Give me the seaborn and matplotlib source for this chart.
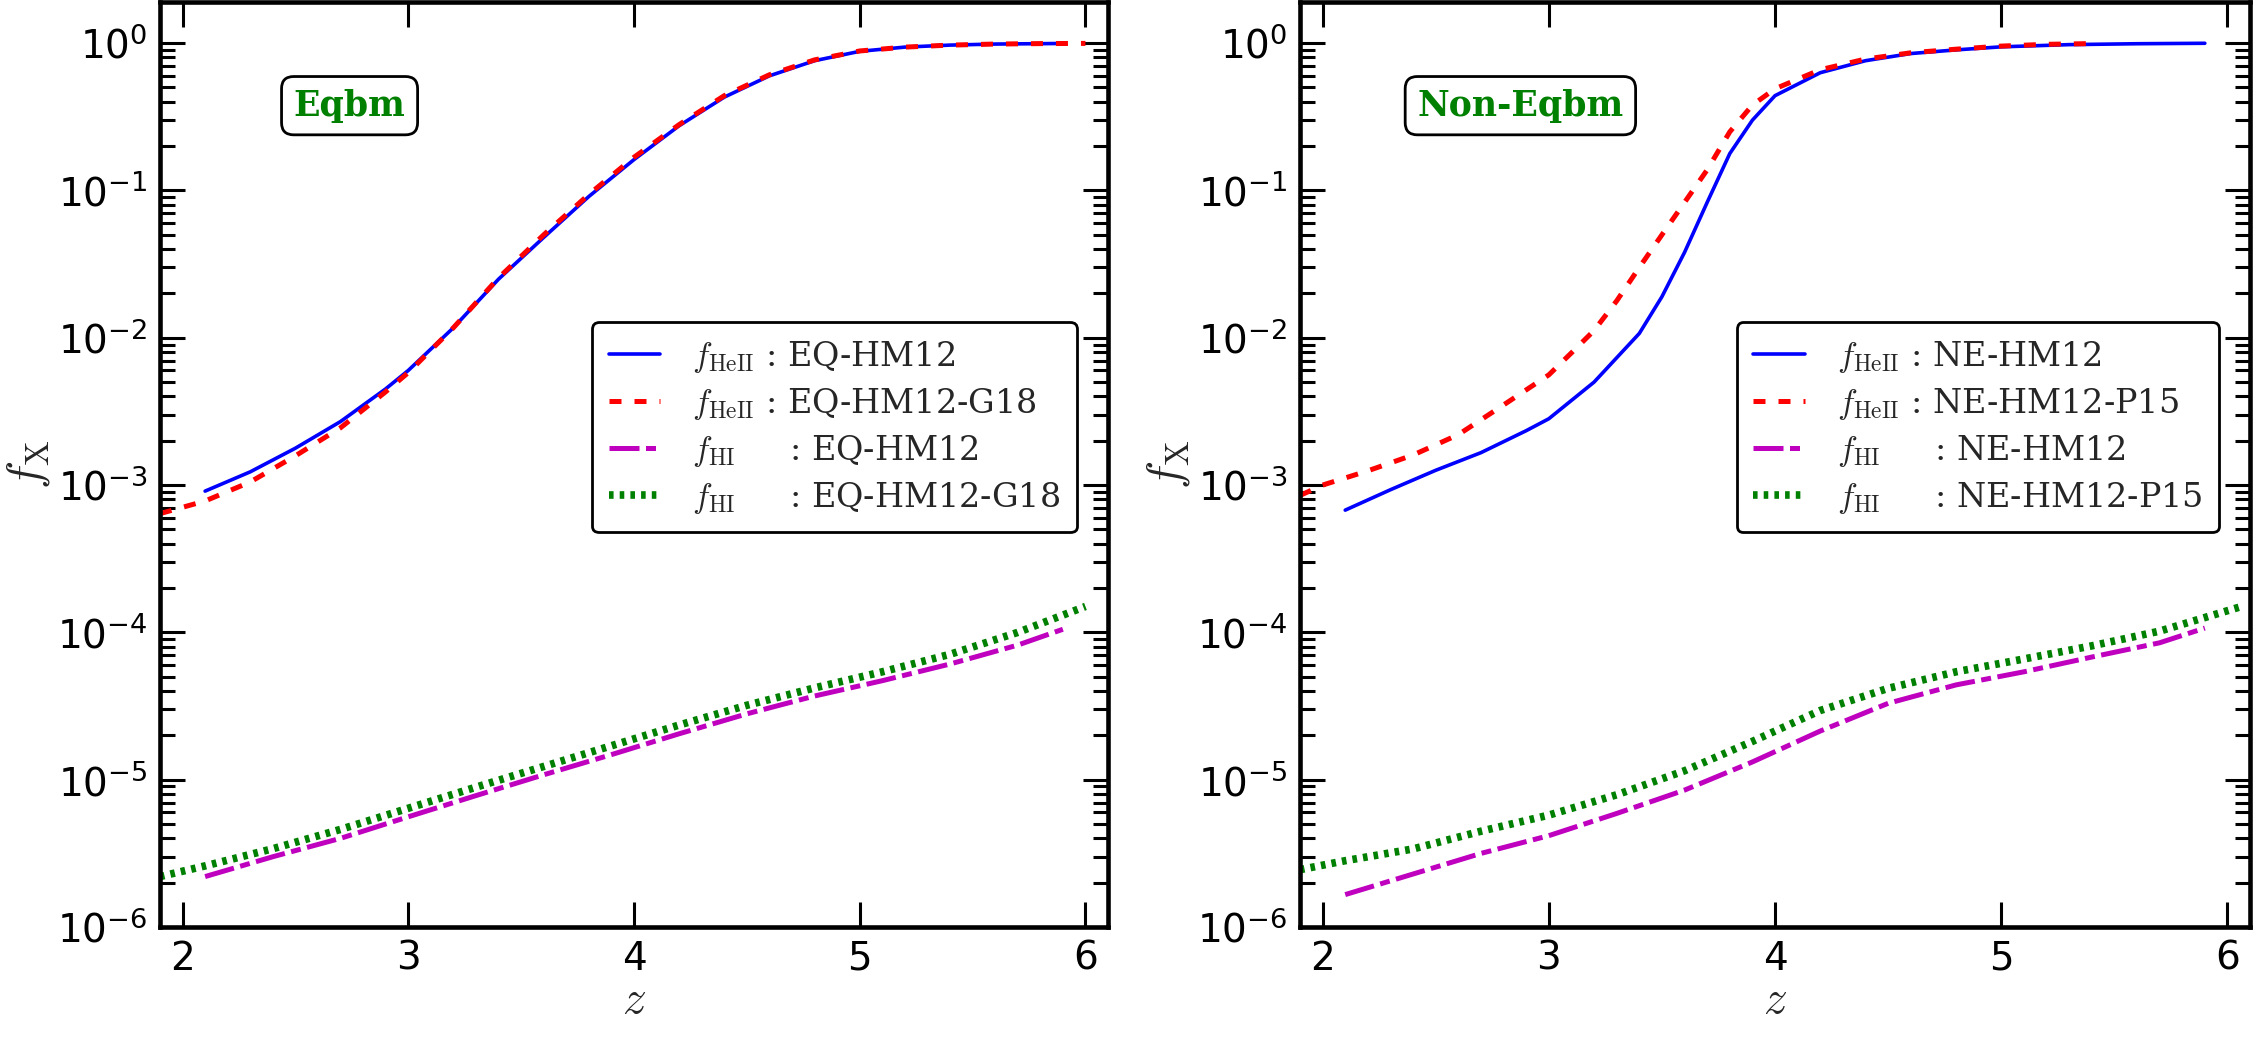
import numpy as np
import pandas as pd
import matplotlib
matplotlib.use("Agg")
import matplotlib.pyplot as plt
from matplotlib.ticker import NullFormatter, FixedLocator, LogFormatterMathtext
import seaborn as sns

# ---------------- data ----------------
# Left panel: equilibrium
eq_heii_hm12_z = [2.1, 2.3, 2.5, 2.7, 2.9, 3.0, 3.2, 3.4, 3.6, 3.8, 4.0, 4.2, 4.4, 4.6, 4.8, 5.0, 5.2, 5.4, 5.6, 5.9]
eq_heii_hm12_f = [9.1e-4, 1.23e-3, 1.78e-3, 2.7e-3, 4.5e-3, 6.0e-3, 1.17e-2, 2.5e-2, 4.8e-2, 9.1e-2,
                  0.162, 0.275, 0.43, 0.60, 0.76, 0.88, 0.94, 0.97, 0.986, 0.995]

eq_heii_g18_z = [1.9, 2.1, 2.3, 2.5, 2.7, 2.9, 3.0, 3.2, 3.4, 3.6, 3.8, 4.0, 4.2, 4.4, 4.6, 4.8, 5.0, 5.2, 5.4, 5.6, 5.8, 6.0]
eq_heii_g18_f = [6.4e-4, 7.8e-4, 1.05e-3, 1.58e-3, 2.45e-3, 4.3e-3, 5.8e-3, 1.17e-2, 2.55e-2, 5.0e-2, 9.4e-2,
                 0.168, 0.28, 0.44, 0.61, 0.77, 0.885, 0.94, 0.97, 0.986, 0.993, 0.996]

eq_hi_hm12_z = [2.1, 2.4, 2.7, 3.0, 3.3, 3.6, 3.9, 4.2, 4.5, 4.8, 5.1, 5.4, 5.7, 5.9]
eq_hi_hm12_f = [2.2e-6, 3.0e-6, 4.0e-6, 5.6e-6, 7.8e-6, 1.08e-5, 1.48e-5, 2.05e-5, 2.8e-5, 3.7e-5,
                4.7e-5, 6.1e-5, 8.2e-5, 1.05e-4]

eq_hi_g18_z = [1.9, 2.1, 2.4, 2.7, 3.0, 3.3, 3.6, 3.9, 4.2, 4.5, 4.8, 5.1, 5.4, 5.7, 6.0]
eq_hi_g18_f = [2.2e-6, 2.6e-6, 3.4e-6, 4.6e-6, 6.4e-6, 8.9e-6, 1.23e-5, 1.7e-5, 2.35e-5, 3.2e-5,
               4.2e-5, 5.4e-5, 7.1e-5, 1.0e-4, 1.5e-4]

# Right panel: non-equilibrium
ne_heii_hm12_z = [2.1, 2.3, 2.5, 2.7, 2.9, 3.0, 3.2, 3.4, 3.5, 3.6, 3.7, 3.8, 3.9, 4.0, 4.2, 4.4, 4.6, 4.8, 5.0, 5.3, 5.6, 5.9]
ne_heii_hm12_f = [6.76e-4, 9.3e-4, 1.26e-3, 1.66e-3, 2.34e-3, 2.82e-3, 5.0e-3, 1.07e-2, 1.9e-2, 3.8e-2,
                  8.3e-2, 0.178, 0.30, 0.44, 0.63, 0.76, 0.85, 0.90, 0.944, 0.977, 0.991, 0.998]

ne_heii_p15_z = [1.9, 2.0, 2.2, 2.4, 2.6, 2.8, 3.0, 3.1, 3.2, 3.3, 3.4, 3.5, 3.6, 3.7, 3.8, 3.9, 4.0, 4.2, 4.4, 4.6, 4.8, 5.0, 5.2, 5.4]
ne_heii_p15_f = [8.5e-4, 1.0e-3, 1.25e-3, 1.6e-3, 2.2e-3, 3.5e-3, 5.6e-3, 7.9e-3, 1.12e-2, 1.78e-2,
                 3.0e-2, 5.0e-2, 8.3e-2, 0.138, 0.25, 0.38, 0.49, 0.66, 0.78, 0.86, 0.91, 0.955, 0.982, 0.993]

ne_hi_hm12_z = [2.1, 2.4, 2.7, 3.0, 3.3, 3.6, 3.9, 4.2, 4.5, 4.8, 5.1, 5.4, 5.7, 5.9]
ne_hi_hm12_f = [1.66e-6, 2.29e-6, 3.16e-6, 4.17e-6, 5.9e-6, 8.5e-6, 1.32e-5, 2.14e-5, 3.3e-5, 4.4e-5,
                5.4e-5, 6.8e-5, 8.5e-5, 1.07e-4]

ne_hi_p15_z = [1.9, 2.1, 2.4, 2.7, 3.0, 3.3, 3.6, 3.9, 4.2, 4.5, 4.8, 5.1, 5.4, 5.7, 6.05]
ne_hi_p15_f = [2.45e-6, 2.82e-6, 3.39e-6, 4.47e-6, 5.75e-6, 7.9e-6, 1.15e-5, 1.82e-5, 2.95e-5, 4.17e-5,
               5.4e-5, 6.6e-5, 8.1e-5, 1.02e-4, 1.48e-4]

left_labels = [r"$f_{\rm HeII}$ : EQ-HM12", r"$f_{\rm HeII}$ : EQ-HM12-G18",
               r"$f_{\rm HI}$     : EQ-HM12", r"$f_{\rm HI}$     : EQ-HM12-G18"]
right_labels = [r"$f_{\rm HeII}$ : NE-HM12", r"$f_{\rm HeII}$ : NE-HM12-P15",
                r"$f_{\rm HI}$     : NE-HM12", r"$f_{\rm HI}$     : NE-HM12-P15"]
panel_titles = ["Eqbm", "Non-Eqbm"]
x_ticks = [2, 3, 4, 5, 6]
y_ticks = [1e-6, 1e-5, 1e-4, 1e-3, 1e-2, 1e-1, 1e0]

# ---------------- style ----------------
sns.set_style("ticks")
plt.rcParams["font.family"] = ["DejaVu Sans"]
plt.rcParams["mathtext.fontset"] = "cm"
plt.rcParams["axes.unicode_minus"] = False

fig = plt.figure(figsize=(22.53, 10.43), dpi=100)
ax_l = fig.add_axes([0.0710, 0.1112, 0.4208, 0.8868])
ax_r = fig.add_axes([0.5770, 0.1112, 0.4217, 0.8868])

styles = [
    dict(color="blue", linewidth=2.6, linestyle="-"),
    dict(color="red", linewidth=3.6, linestyle=(0, (2.4, 2.6))),
    dict(color="m", linewidth=3.6, linestyle=(0, (6.0, 1.3, 2.0, 1.3))),
    dict(color="green", linewidth=5.5, linestyle=(0, (0.6, 0.8))),
]

panels = [
    (ax_l, [(eq_heii_hm12_z, eq_heii_hm12_f), (eq_heii_g18_z, eq_heii_g18_f),
            (eq_hi_hm12_z, eq_hi_hm12_f), (eq_hi_g18_z, eq_hi_g18_f)], left_labels, panel_titles[0], 0.20),
    (ax_r, [(ne_heii_hm12_z, ne_heii_hm12_f), (ne_heii_p15_z, ne_heii_p15_f),
            (ne_hi_hm12_z, ne_hi_hm12_f), (ne_hi_p15_z, ne_hi_p15_f)], right_labels, panel_titles[1], 0.232),
]

minor_locs = [m * 10.0 ** e for e in range(-6, 0) for m in range(2, 10)]

for ax, series, labels, title, tx in panels:
    for (zz, ff), lab, st in zip(series, labels, styles):
        df = pd.DataFrame({"z": zz, "f": ff})
        sns.lineplot(data=df, x="z", y="f", ax=ax, label=lab, sort=True,
                     estimator=None, **st)
    ax.set_yscale("log")
    ax.set_xlim(1.9, 6.1)
    ax.set_ylim(1e-6, 1.9)
    ax.set_xticks(x_ticks)
    ax.set_xticklabels([str(t) for t in x_ticks])
    ax.yaxis.set_major_locator(FixedLocator(y_ticks))
    ax.yaxis.set_major_formatter(LogFormatterMathtext())
    ax.yaxis.set_minor_locator(FixedLocator(minor_locs))
    ax.yaxis.set_minor_formatter(NullFormatter())
    ax.set_xlabel(r"$z$", fontsize=34, labelpad=0)
    ax.set_ylabel(r"$f_{\rm X}$", fontsize=34, labelpad=4)
    for sp in ax.spines.values():
        sp.set_linewidth(3.3)
        sp.set_color("black")
    ax.tick_params(which="both", direction="in", top=True, right=True, colors="black")
    ax.tick_params(which="major", length=18, width=2.2, labelsize=28, pad=9)
    ax.tick_params(which="minor", length=11, width=2.2)
    ax.tick_params(axis="x", which="minor", bottom=False, top=False)
    leg = ax.legend(loc="upper right", bbox_to_anchor=(0.967, 0.654), borderaxespad=0.0,
                    frameon=True, fancybox=True,
                    prop={"family": "DejaVu Serif", "size": 24}, handlelength=1.55,
                    handletextpad=0.95, labelspacing=0.33, borderpad=0.5)
    leg.get_frame().set_edgecolor("black")
    leg.get_frame().set_linewidth(2.0)
    leg.get_frame().set_alpha(1.0)
    ax.text(tx, 0.888, title, transform=ax.transAxes, ha="center", va="center",
            fontsize=25, fontweight="bold", family="DejaVu Serif", color="green",
            bbox=dict(boxstyle="round,pad=0.35", facecolor="white", edgecolor="black", linewidth=2.0))

fig.savefig("out.png", dpi=100)
